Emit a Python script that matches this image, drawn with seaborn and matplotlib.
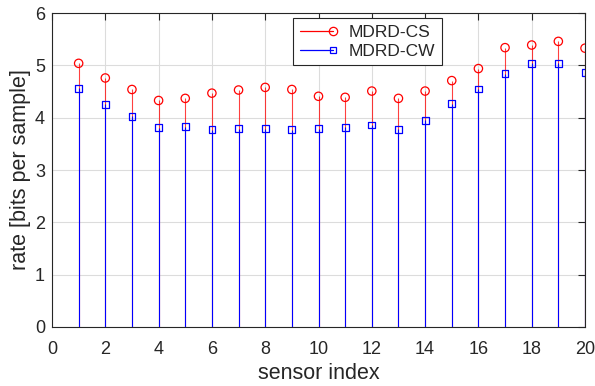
import matplotlib
matplotlib.use("Agg")
import matplotlib.pyplot as plt
from matplotlib.lines import Line2D
from matplotlib.legend_handler import HandlerLine2D
import pandas as pd
import seaborn as sns

sensor = list(range(1, 21))
rate_cs = [5.04, 4.76, 4.54, 4.33, 4.37, 4.47, 4.53, 4.58, 4.54, 4.41,
           4.39, 4.51, 4.37, 4.51, 4.71, 4.94, 5.34, 5.39, 5.46, 5.33]
rate_cw = [4.56, 4.26, 4.03, 3.81, 3.83, 3.77, 3.79, 3.79, 3.77, 3.79,
           3.82, 3.86, 3.78, 3.95, 4.27, 4.55, 4.84, 5.04, 5.04, 4.86]
x_ticks = list(range(0, 21, 2))
y_ticks = list(range(0, 7))

df = pd.DataFrame({"sensor": sensor, "MDRD-CS": rate_cs, "MDRD-CW": rate_cw})


class StemLegendHandler(HandlerLine2D):
    """Legend entry: a short line with the marker sitting at its right end."""

    def create_artists(self, legend, orig_handle, xdescent, ydescent,
                       width, height, fontsize, trans):
        artists = super().create_artists(legend, orig_handle, xdescent,
                                         ydescent, width, height, fontsize,
                                         trans)
        if len(artists) == 1:
            line = artists[0]
            n = len(line.get_xdata())
            line.set_markevery([n - 1])
        else:
            line, marker = artists[0], artists[1]
            marker.set_xdata([line.get_xdata()[-1]])
            marker.set_ydata([line.get_ydata()[-1]])
        return artists


sns.set_style("whitegrid")
plt.rcParams["font.family"] = ["Liberation Sans", "DejaVu Sans"]

fig = plt.figure(figsize=(5.95, 3.86), dpi=100)
ax = fig.add_axes([0.0874, 0.153, 0.8958, 0.813])

red = "#ff0000"
blue = "#0000ff"
txt = "#262626"

# stems from zero up to each rate
ax.vlines(df["sensor"], 0, df["MDRD-CS"], color=red, lw=0.8, alpha=0.75, zorder=2)
ax.vlines(df["sensor"], 0, df["MDRD-CW"], color=blue, lw=0.8, zorder=3)

sns.scatterplot(data=df, x="sensor", y="MDRD-CS", marker="o", s=36,
                facecolors="none", edgecolor=red, linewidth=0.9,
                ax=ax, legend=False, zorder=4)
sns.scatterplot(data=df, x="sensor", y="MDRD-CW", marker="s", s=24,
                facecolors="none", edgecolor=blue, linewidth=0.9,
                ax=ax, legend=False, zorder=5)

ax.set_xlim(0, 20)
ax.set_ylim(0, 6)
ax.set_xticks(x_ticks)
ax.set_yticks(y_ticks)
ax.set_xlabel("sensor index", fontsize=15.5, color=txt, labelpad=4)
ax.set_ylabel("rate [bits per sample]", fontsize=15.5, color=txt, labelpad=3)
ax.tick_params(axis="both", labelsize=13, colors=txt, direction="in",
               length=5, width=0.8, top=True, right=True)
ax.tick_params(axis="x", pad=10)
ax.tick_params(axis="y", pad=5)
ax.grid(True, color="#dcdcdc", lw=0.8)

for sp in ax.spines.values():
    sp.set_visible(True)
    sp.set_color(txt)
    sp.set_linewidth(0.8)

handles = [
    Line2D([0], [0], color=red, lw=0.9, marker="o", markersize=6,
           markerfacecolor="none", markeredgewidth=0.9),
    Line2D([0], [0], color=blue, lw=0.9, marker="s", markersize=5,
           markerfacecolor="none", markeredgewidth=0.9),
]
leg = ax.legend(handles, ["MDRD-CS", "MDRD-CW"], loc="upper left",
                bbox_to_anchor=(0.453, 0.983), fontsize=12.5, frameon=True,
                fancybox=False, edgecolor=txt, framealpha=1, numpoints=1,
                handlelength=1.9, borderpad=0.35, labelspacing=0.25,
                handletextpad=0.95, borderaxespad=0,
                handler_map={Line2D: StemLegendHandler()})
leg.get_frame().set_linewidth(0.8)

fig.savefig("out.png", dpi=100)
